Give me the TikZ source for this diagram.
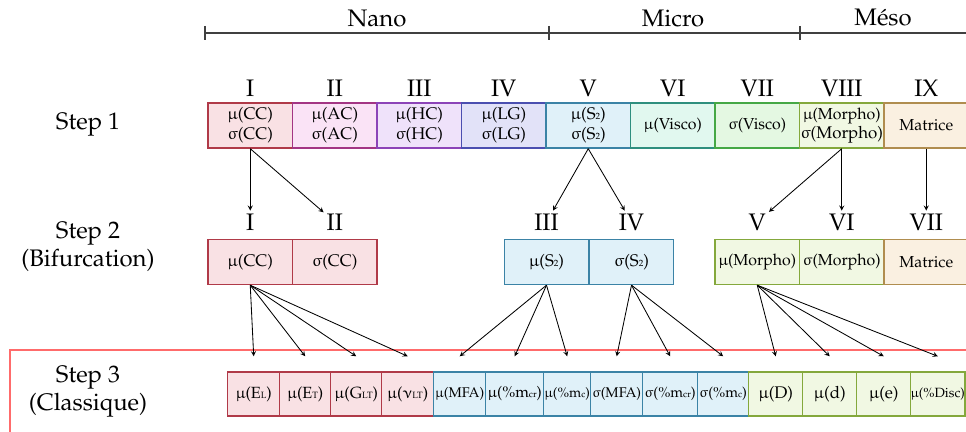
\documentclass[tikz,border=0pt]{standalone}
\usepackage[T1]{fontenc}
\usepackage{mathpazo}
\usepackage{upgreek}
\usetikzlibrary{calc}

\newcommand{\mymu}{$\upmu$}
\newcommand{\mysigma}{$\upsigma$}
\newcommand{\mynu}{$\upnu$}
\newcommand{\lowtxt}[1]{{\fontsize{6.5}{7}\selectfont #1}}
\newcommand{\smallfont}{\fontsize{11.3}{13.5}\selectfont}

\begin{document}
\begin{tikzpicture}[x=0.025cm, y=-0.025cm,
    box/.style={draw, line width=1pt, inner sep=0pt, align=center,
        minimum width=2.1125cm, minimum height=1.125cm, font=\fontsize{12}{14}\selectfont},
    cbox/.style={draw, line width=1pt, inner sep=0pt, align=center, anchor=west,
        minimum height=1.1cm},
    numlabel/.style={font=\fontsize{17}{19}\selectfont, inner sep=2pt},
    steplabel/.style={font=\fontsize{17}{20}\selectfont, align=center},
    arrow/.style={->, >=stealth, line width=0.6pt}]

    % Define colours
    \definecolor{ccFill}{HTML}{F9E1E4}
    \definecolor{ccDraw}{HTML}{B03A48}
    \definecolor{acFill}{HTML}{FAE3F6}
    \definecolor{acDraw}{HTML}{A33584}
    \definecolor{hcFill}{HTML}{EFE2FA}
    \definecolor{hcDraw}{HTML}{8C44B8}
    \definecolor{lgFill}{HTML}{E2E2F8}
    \definecolor{lgDraw}{HTML}{4B4FB0}
    \definecolor{sFill}{HTML}{E0F1F9}
    \definecolor{sDraw}{HTML}{3B83A6}
    \definecolor{vmFill}{HTML}{E1F8EF}
    \definecolor{vmDraw}{HTML}{2E8F7E}
    \definecolor{vsFill}{HTML}{E4F8E2}
    \definecolor{vsDraw}{HTML}{45A845}
    \definecolor{moFill}{HTML}{F1F8E3}
    \definecolor{moDraw}{HTML}{84A83C}
    \definecolor{maFill}{HTML}{FAF0E1}
    \definecolor{maDraw}{HTML}{B08D4F}
    \definecolor{frameColour}{HTML}{FF6B6B}

    % Fix picture size
    \useasboundingbox (0,0) rectangle (966,432);

    % Draw scale bar
    \draw[line width=0.8pt, black!75] (205,33) -- (980,33);
    \foreach \x in {205,549,800}
        \draw[line width=0.8pt, black!75] (\x,26) -- (\x,40);
    \node[numlabel] (nano) at (377,18) {Nano};
    \node[numlabel] (micro) at (673,18) {Micro};
    \node[numlabel] (meso) at (883,17) {M\'eso};

    % Step labels
    \node[steplabel] (step1) at (88,125) {Step 1};
    \node[steplabel] (step2) at (88,247) {Step 2\\(Bifurcation)};
    \node[steplabel] (step3) at (88,392) {Step 3\\(Classique)};

    % Frame around step 3
    \draw[frameColour, line width=1.2pt] (10,450) -- (10,350) -- (990,350);

    % Step 1 boxes
    \foreach \i/\num/\txt/\col in {
        1/I/{\mymu(CC)\\\mysigma(CC)}/cc,
        2/II/{\mymu(AC)\\\mysigma(AC)}/ac,
        3/III/{\mymu(HC)\\\mysigma(HC)}/hc,
        4/IV/{\mymu(LG)\\\mysigma(LG)}/lg,
        5/V/{\mymu(S\lowtxt{2})\\\mysigma(S\lowtxt{2})}/s,
        6/VI/{\smallfont\mymu(Visco)}/vm,
        7/VII/{\smallfont\mysigma(Visco)}/vs,
        8/VIII/{\smallfont\mymu(Morpho)\\\mysigma(Morpho)}/mo,
        9/IX/{\smallfont Matrice}/ma} {
        \node[box, fill=\col Fill, draw=\col Draw] (s1-\i) at ({208+84.5*(\i-0.5)},125.5) {\txt};
        \node[numlabel] (n1-\i) at ({208+84.5*(\i-0.5)},88) {\num};
    }

    % Step 2 boxes
    \foreach \i/\x/\num/\txt/\col in {
        1/250.25/I/{\mymu(CC)}/cc,
        2/334.75/II/{\mysigma(CC)}/cc,
        3/546.5/III/{\mymu(S\lowtxt{2})}/s,
        4/631.5/IV/{\mysigma(S\lowtxt{2})}/s,
        5/757.25/V/{\smallfont\mymu(Morpho)}/mo,
        6/841.75/VI/{\smallfont\mysigma(Morpho)}/mo,
        7/926.25/VII/{\smallfont Matrice}/ma} {
        \node[box, fill=\col Fill, draw=\col Draw] (s2-\i) at (\x,262) {\txt};
        \node[numlabel] (n2-\i) at (\x,222) {\num};
    }

    % Step 3 boxes
    \foreach \i/\l/\w/\fs/\txt/\col in {
        1/227/52/11.5/{\mymu(E\lowtxt{L})}/cc,
        2/279/51/11.5/{\mymu(E\lowtxt{T})}/cc,
        3/330/51/11.5/{\mymu(G\lowtxt{LT})}/cc,
        4/381/52/11.5/{\mymu(\mynu\lowtxt{LT})}/cc,
        5/433/52/10/{\mymu(MFA)}/s,
        6/485/58/11/{\mymu(\%m\lowtxt{cr})}/s,
        7/543/47/9.8/{\mymu(\%m\lowtxt{c})}/s,
        8/590/52/10/{\mysigma(MFA)}/s,
        9/642/55/10.3/{\mysigma(\%m\lowtxt{cr})}/s,
        10/697/51/10.3/{\mysigma(\%m\lowtxt{c})}/s,
        11/748/54/12/{\mymu(D)}/mo,
        12/802/54/12/{\mymu(d)}/mo,
        13/856/54/12/{\mymu(e)}/mo,
        14/910/54/9.5/{\mymu(\%Disc)}/mo} {
        \node[cbox, fill=\col Fill, draw=\col Draw, minimum width=\w*0.025cm,
            font=\fontsize{\fs}{\fs}\selectfont] (s3-\i) at (\l,394) {\txt};
    }

    % Arrows from step 1 to step 2
    \draw[arrow] (s1-1.south) -- (n2-1);
    \draw[arrow] (s1-1.south) -- (n2-2);
    \draw[arrow] (s1-5.south) -- (n2-3);
    \draw[arrow] (s1-5.south) -- (n2-4);
    \draw[arrow] (s1-8.south) -- (n2-5);
    \draw[arrow] (s1-8.south) -- (n2-6);
    \draw[arrow] (s1-9.south) -- (n2-7);

    % Arrows from step 2 to step 3
    \foreach \j in {1,...,4}
        \draw[arrow] (s2-1.south) -- ($(s3-\j.north)+(0,-15)$);
    \foreach \j in {5,6,7}
        \draw[arrow] (s2-3.south) -- ($(s3-\j.north)+(0,-15)$);
    \foreach \j in {8,9,10}
        \draw[arrow] (s2-4.south) -- ($(s3-\j.north)+(0,-15)$);
    \foreach \j in {11,...,14}
        \draw[arrow] (s2-5.south) -- ($(s3-\j.north)+(0,-15)$);

\end{tikzpicture}
\end{document}
